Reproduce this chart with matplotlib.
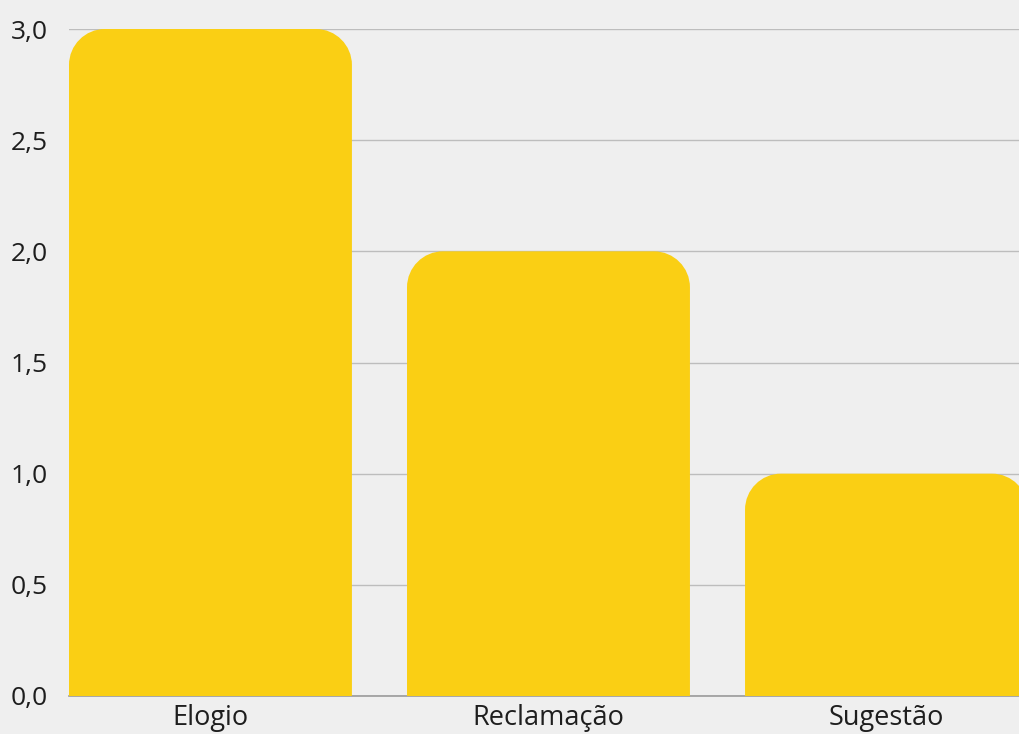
import matplotlib
matplotlib.use("Agg")
import matplotlib.pyplot as plt
from matplotlib.path import Path
from matplotlib.patches import PathPatch

categories = ["Elogio", "Reclamação", "Sugestão"]
values = [3, 2, 1]
yticks = [0.0, 0.5, 1.0, 1.5, 2.0, 2.5, 3.0]
ytick_labels = ["0,0", "0,5", "1,0", "1,5", "2,0", "2,5", "3,0"]

BG = "#efefef"
BAR = "#facf14"
W, H = 1019, 734

plt.rcParams['font.family'] = ['Open Sans', 'DejaVu Sans']
fig = plt.figure(figsize=(W / 100, H / 100), dpi=100)
fig.patch.set_facecolor(BG)
ax = fig.add_axes([69 / W, (H - 696) / H, (1019 - 69) / W, (696 - 29) / H])
ax.set_facecolor(BG)

x = list(range(len(categories)))
bw = 0.837
bars = ax.bar(x, values, width=bw, color=BAR, zorder=3)
ax.set_xlim(-bw / 2, 2.392)
ax.set_ylim(0, 3)

ax.set_yticks(yticks)
ax.set_yticklabels(ytick_labels)
ax.set_xticks(x)
ax.set_xticklabels(categories)
ax.tick_params(axis='y', length=0, pad=15, labelsize=19, labelcolor="#1e1e1e")
ax.tick_params(axis='x', length=0, pad=6, labelsize=19.5, labelcolor="#1e1e1e")
for s in ax.spines.values():
    s.set_visible(False)
ax.grid(axis='y', color="#bdbdbd", linewidth=1.0, zorder=0)
ax.axhline(0, color="#9a9a9a", linewidth=1.2, zorder=1, clip_on=False)
ax.set_axisbelow(True)

# rounded top corners
fig.canvas.draw()
p0 = ax.transData.transform((0, 0))
p1 = ax.transData.transform((1, 1))
px_x = p1[0] - p0[0]
px_y = p1[1] - p0[1]
r_px = 36
rx = r_px / px_x
ry = r_px / px_y
k = 0.5523
for b in bars:
    x0 = b.get_x()
    w = b.get_width()
    h = b.get_height()
    x1 = x0 + w
    verts = [
        (x0, 0), (x0, h - ry),
        (x0, h - ry + k * ry), (x0 + rx - k * rx, h), (x0 + rx, h),
        (x1 - rx, h),
        (x1 - rx + k * rx, h), (x1, h - ry + k * ry), (x1, h - ry),
        (x1, 0), (x0, 0),
    ]
    codes = [Path.MOVETO, Path.LINETO,
             Path.CURVE4, Path.CURVE4, Path.CURVE4,
             Path.LINETO,
             Path.CURVE4, Path.CURVE4, Path.CURVE4,
             Path.LINETO, Path.CLOSEPOLY]
    patch = PathPatch(Path(verts, codes), facecolor=BAR, edgecolor='none', zorder=3)
    ax.add_patch(patch)
    b.set_visible(False)

fig.savefig("out.png", dpi=100, facecolor=BG)
